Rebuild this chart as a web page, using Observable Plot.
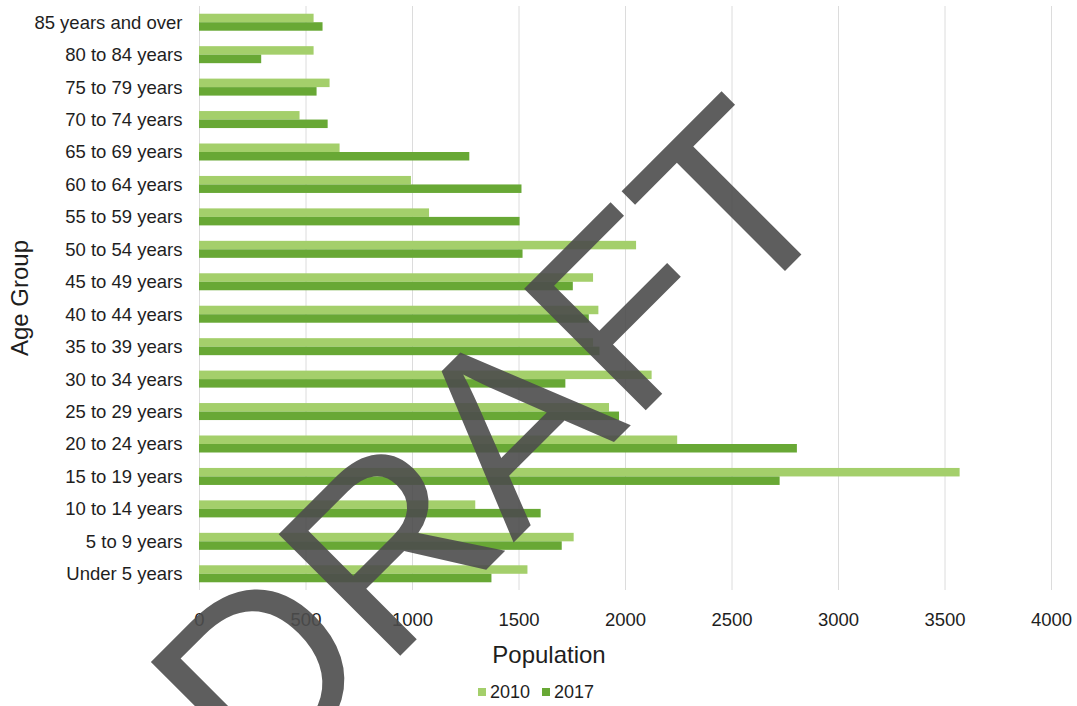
<!DOCTYPE html>
<html>
<head>
<meta charset="utf-8">
<script src="https://cdn.jsdelivr.net/npm/d3@7"></script>
<script src="https://cdn.jsdelivr.net/npm/@observablehq/plot@0.6"></script>
<style>
  html, body { margin: 0; padding: 0; background: #fff; }
  body { font-family: "Liberation Sans", Arial, sans-serif; color: #1e1e1e; }
  #wrap { position: relative; width: 1077px; height: 706px; overflow: hidden; }
  #ylabel { position: absolute; left: 20px; top: 298px; transform: translate(-50%, -50%) rotate(-90deg); font-size: 24px; white-space: nowrap; }
  #xlabel { position: absolute; left: 449px; width: 200px; top: 640px; line-height: 30px; text-align: center; font-size: 24px; }
  #legend { position: absolute; left: 0; width: 1077px; top: 680px; line-height: 24px; font-size: 18px; display: flex; justify-content: center; padding-right: 5px; box-sizing: border-box; }
  #legend .item { display: flex; align-items: center; margin: 0 6px; }
  #legend .sw { width: 8px; height: 8px; margin-right: 4px; }
  #wm { position: absolute; left: 0; top: 0; pointer-events: none; }
</style>
</head>
<body>
<div id="wrap">
  <div id="chart"></div>
  <div id="ylabel">Age Group</div>
  <div id="xlabel">Population</div>
  <div id="legend"></div>
  <svg id="wm" width="1077" height="706">
    <text transform="translate(258,798) rotate(-45)" font-family="Liberation Sans, Arial, sans-serif" font-size="250" fill="#4d4d4d" opacity="0.9">DRAFT</text>
  </svg>
</div>
<script>
const ageGroups = [
  "85 years and over", "80 to 84 years", "75 to 79 years", "70 to 74 years",
  "65 to 69 years", "60 to 64 years", "55 to 59 years", "50 to 54 years",
  "45 to 49 years", "40 to 44 years", "35 to 39 years", "30 to 34 years",
  "25 to 29 years", "20 to 24 years", "15 to 19 years", "10 to 14 years",
  "5 to 9 years", "Under 5 years"
];
const pop2010 = [538, 538, 613, 472, 660, 995, 1080, 2052, 1850, 1875, 1850, 2125, 1925, 2245, 3571, 1297, 1759, 1542];
const pop2017 = [580, 292, 552, 604, 1269, 1514, 1505, 1519, 1755, 1830, 1880, 1720, 1972, 2807, 2726, 1604, 1703, 1373];
const years = ["2010", "2017"];
const yearColors = ["#a4cf6b", "#68a835"];
const xTicks = [0, 500, 1000, 1500, 2000, 2500, 3000, 3500, 4000];

const rows2010 = ageGroups.map((age, i) => ({age, year: years[0], value: pop2010[i]}));
const rows2017 = ageGroups.map((age, i) => ({age, year: years[1], value: pop2017[i]}));

const height = 640, marginTop = 6, marginBottom = 50;
const band = (height - marginTop - marginBottom) / ageGroups.length;
const barH = 8.5;
const half = band / 2;

const chart = Plot.plot({
  width: 1077,
  height,
  marginLeft: 199,
  marginRight: 26,
  marginTop,
  marginBottom,
  style: {fontFamily: "Liberation Sans, Arial, sans-serif", fontSize: "18.5px", color: "#1e1e1e", background: "transparent", overflow: "visible"},
  x: {domain: [0, 4000], ticks: xTicks, tickFormat: d => String(d), tickSize: 0, tickPadding: 22, label: null},
  y: {domain: ageGroups, padding: 0, round: false, tickSize: 0, tickPadding: 17, label: null},
  color: {domain: years, range: yearColors},
  marks: [
    Plot.ruleX(xTicks, {stroke: "#dcdcdc", strokeWidth: 1}),
    Plot.barX(rows2010, {x: "value", y: "age", fill: "year", insetTop: half - barH, insetBottom: half}),
    Plot.barX(rows2017, {x: "value", y: "age", fill: "year", insetTop: half, insetBottom: half - barH})
  ]
});
document.getElementById("chart").appendChild(chart);

const legend = document.getElementById("legend");
years.forEach((y, i) => {
  const item = document.createElement("div");
  item.className = "item";
  const sw = document.createElement("div");
  sw.className = "sw";
  sw.style.background = yearColors[i];
  const t = document.createElement("span");
  t.textContent = y;
  item.appendChild(sw);
  item.appendChild(t);
  legend.appendChild(item);
});
</script>
</body>
</html>
